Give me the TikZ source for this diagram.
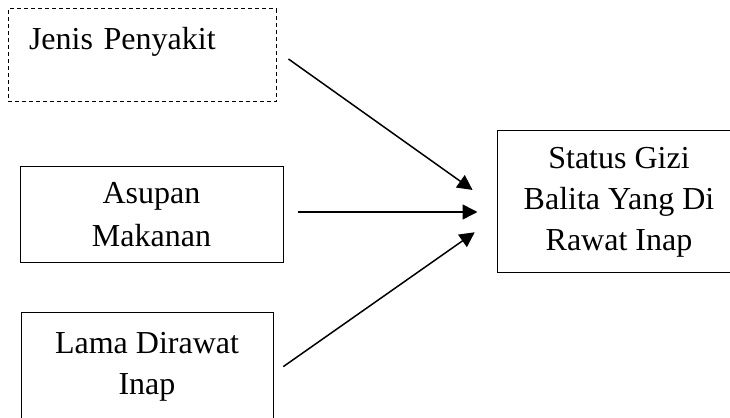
\documentclass[tikz,border=0pt]{standalone}
\usepackage{fontspec}
\setmainfont{Liberation Serif}
\usetikzlibrary{arrows.meta}

\begin{document}
\begin{tikzpicture}[x=1pt,y=1pt]
            \tikzstyle{kotak}=[draw,line width=0.5pt,inner sep=0pt,align=center,font=\fontsize{16}{20.5}\selectfont]
            \tikzstyle{panah}=[line width=0.75pt,-{Triangle[length=7.5pt,width=7.5pt]}]
            \useasboundingbox (0,0) rectangle (365,209);
            \node[kotak,dashed,dash pattern=on 2pt off 1.5pt,align=left,text width=113pt,inner xsep=10.5pt,text height=15pt,minimum height=46.5pt] (jenis) at (71,181.25) {Jenis Penyakit\\\mbox{}};
            \node[kotak,minimum width=131.5pt,minimum height=48pt] (asupan) at (75.75,101.5) {Asupan\\[1pt]Makanan};
            \node[kotak,minimum width=126pt,minimum height=70.5pt] (lama) at (73.5,17.25) {Lama Dirawat\\Inap\\\mbox{}};
            \node[kotak,minimum width=122pt,minimum height=71pt] (status) at (309.5,108) {Status Gizi\\Balita Yang Di\\Rawat Inap};
            \draw[panah,shorten <=7.35pt,shorten >=14.7pt] ([yshift=2.5pt]jenis.east) -- ([yshift=-2.5pt]status.west);
            \draw[panah,shorten <=7pt,shorten >=9.5pt] ([yshift=1.5pt]asupan.east) -- ([yshift=-5pt]status.west);
            \draw[panah,shorten <=6pt,shorten >=13.3pt] ([yshift=5pt]lama.east) -- ([yshift=-7.5pt]status.west);
        \end{tikzpicture}
\end{document}
